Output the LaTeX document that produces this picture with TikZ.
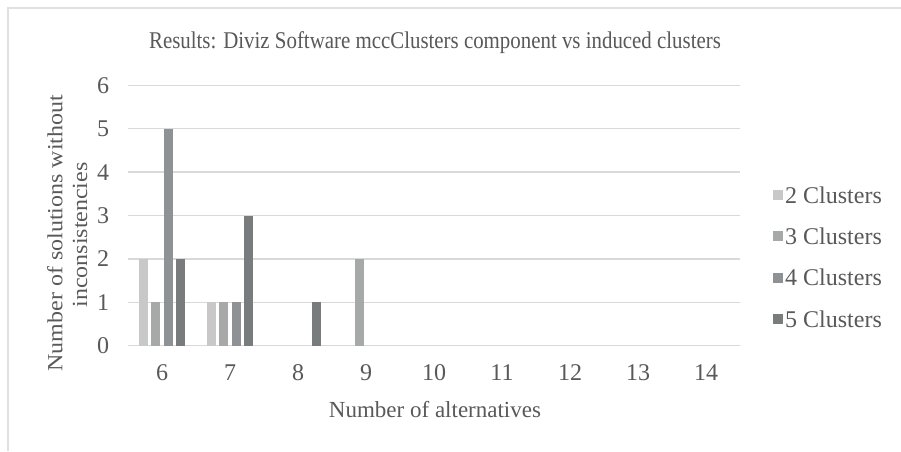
\documentclass[tikz,border=0pt]{standalone}
\usepackage{graphicx}
\usepackage{fontspec}
\setmainfont{Liberation Serif}
% the chart title is set in a slightly condensed cut
\newfontfamily\condserif{Liberation Serif}[FakeStretch=0.87]

\definecolor{txtgray}{HTML}{595959}
\definecolor{gridgray}{HTML}{D9D9D9}
\definecolor{framegray}{HTML}{E0E0E0}
\definecolor{cTwo}{HTML}{C8C8C8}
\definecolor{cThree}{HTML}{A7A9A9}
\definecolor{cFour}{HTML}{8F9295}
\definecolor{cFive}{HTML}{787C7D}

% one bar: colour, centre x, value
\newcommand\chartbar[3]{%
  \fill[#1] ({#2-4.65},-345.7) rectangle ({#2+4.65},{-345.7+43.4*#3});}

\begin{document}
\begin{tikzpicture}[x=1pt,y=1pt,
  lbl/.style={text=txtgray, font=\fontsize{24}{28}\selectfont, inner sep=0pt},
  gridline/.style={draw=gridgray, line width=1.4pt},
  legsq/.style={minimum size=10pt, inner sep=0pt}]

\useasboundingbox (0,0) rectangle (901,-451);
\fill[white] (0,0) rectangle (901,-451);

% chart frame
\draw[framegray, line width=1.2pt] (8,-451) -- (8,-8) -- (901,-8);

% title
\node[lbl, font=\fontsize{24}{28}\selectfont\condserif] (title) at (435,-43)
  {Results: Diviz Software mccClusters component vs induced clusters};

% horizontal gridlines and value labels
\foreach \v in {0,...,6} {
  \draw[gridline] (128,{-345.7+43.4*\v}) -- (740,{-345.7+43.4*\v});
  \node[lbl] (ytick\v) at (103,{-345.7+43.4*\v}) {\v};
}

% category labels
\foreach \k [count=\i from 0] in {6,...,14}
  \node[lbl] (xtick\k) at ({162+68*\i},-373) {\k};

% bars: series offsets -18.6, -6.2, 6.2, 18.6
\chartbar{cTwo}{143.4}{2}
\chartbar{cThree}{155.8}{1}
\chartbar{cFour}{168.2}{5}
\chartbar{cFive}{180.6}{2}

\chartbar{cTwo}{211.4}{1}
\chartbar{cThree}{223.8}{1}
\chartbar{cFour}{236.2}{1}
\chartbar{cFive}{248.6}{3}

\chartbar{cFive}{316.6}{1}

\chartbar{cThree}{359.8}{2}

% axis titles
\node[lbl, font=\fontsize{23}{27}\selectfont] (xtitle) at (435,-410) {Number of alternatives};
\node[lbl, rotate=90] (ytitleA) at (55,-233)
  {\scalebox{1}[0.9]{Number of solutions without}};
\node[lbl, rotate=90] (ytitleB) at (80,-235)
  {\scalebox{1}[0.9]{inconsistencies}};

% legend
\foreach \c/\t [count=\j from 0] in {cTwo/2, cThree/3, cFour/4, cFive/5} {
  \node[legsq, fill=\c] (legsq\t) at (778,{-195-41.3*\j}) {};
  \node[lbl, anchor=west] (legtx\t) at (785,{-195-41.3*\j}) {\t\ Clusters};
}
\end{tikzpicture}
\end{document}
